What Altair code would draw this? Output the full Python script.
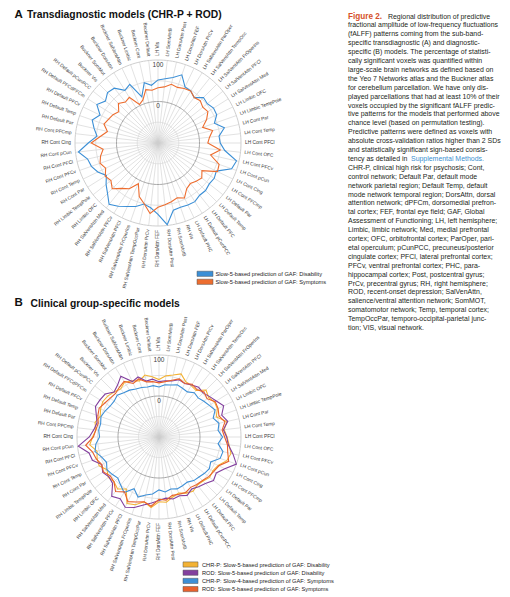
import altair as alt
import pandas as pd

# ---------------- data ----------------
regions = [
    "LH Vis", "LH SomMotB", "LH DorsAttn Post", "LH DorsAttn FEF", "LH DorsAttn PrCv",
    "LH SalVentAttn ParOper", "LH SalVentAttn TempOcc", "LH SalVentAttn FrOperIns",
    "LH SalVentAttn PFCl", "LH SalVentAttn Med", "LH Limbic OFC", "LH Limbic TempPole",
    "LH Cont Par", "LH Cont Temp", "LH Cont PFCl", "LH Cont OFC", "LH Cont PFCv", "LH Cont pCun",
    "LH Cont Cing", "LH Cont PFCmp", "LH Default Par", "LH Default Temp", "LH Default PFC",
    "LH Default pCunPCC", "LH Default PHC", "RH Vis", "RH SomMotB", "RH DorsAttn Post",
    "RH DorsAttn FEF", "RH DorsAttn PrCv", "RH SalVentAttn TempOccPar", "RH SalVentAttn FrOperIns",
    "RH SalVentAttn PFCl", "RH SalVentAttn PFCv", "RH SalVentAttn Med", "RH Limbic OFC",
    "RH Limbic TempPole", "RH Cont Par", "RH Cont Temp", "RH Cont PFCv", "RH Cont PFCl",
    "RH Cont pCun", "RH Cont Cing", "RH Cont PFCmp", "RH Default Par", "RH Default Temp",
    "RH Default PFCv", "RH Default PFCdPFCm", "RH Default pCunPCC", "Buckner Vis",
    "Buckner SomMot", "Buckner DorsAttn", "Buckner SalVentAttn", "Buckner Limbic",
    "Buckner Cont", "Buckner Default",
]

a_disability = [52, 56, 62, 74, 50, 48, 40, 55,
                52, 58, 57, 44, 64, 48, 50, 62,
                94, 88, 56, 60, 58, 62, 61, 67,
                66, 64, 66, 98, 72, 57, 51, 62,
                70, 80, 89, 72, 60, 47, 61, 70,
                74, 93, 68, 48, 58, 68, 55, 74,
                62, 72, 69, 50, 57, 18, 49, 40]
a_symptoms = [33, 36, 45, 42, 46, 48, 40, 44,
              38, 42, 30, 14, 35, 25, 20, 51,
              30, 56, 59, 25, 35, 30, 25, 30,
              47, 40, 45, 50, 55, 71, 50, 37,
              9, 30, 40, 56, 45, 50, 40, 48,
              42, 33, 61, 40, 25, 38, 32, 28,
              21, 35, 26, 30, 3, 10, 32, 28]

b_chrp_s5_dis = [40, 50, 55, 63, 50, 48, 45, 62,
                 55, 60, 58, 48, 70, 60, 66, 72,
                 80, 75, 60, 55, 58, 52, 50, 56,
                 52, 45, 50, 60, 58, 73, 62, 75,
                 80, 50, 62, 55, 58, 50, 62, 60,
                 55, 70, 62, 55, 60, 52, 58, 62,
                 60, 55, 50, 58, 52, 45, 55, 48]
b_rod_s5_dis = [35, 38, 40, 48, 45, 50, 55, 52,
                58, 65, 75, 62, 72, 58, 65, 70,
                85, 100, 78, 65, 70, 60, 55, 50,
                58, 52, 55, 50, 55, 62, 70, 82,
                90, 78, 85, 60, 56, 62, 55, 72,
                75, 98, 70, 60, 55, 62, 72, 70,
                68, 55, 62, 75, 50, 55, 40, 42]
b_chrp_s4_sym = [22, 28, 30, 35, 32, 30, 38, 35,
                 40, 45, 52, 40, 50, 45, 55, 45,
                 60, 58, 40, 45, 42, 38, 36, 30,
                 32, 34, 30, 35, 29, 40, 45, 55,
                 40, 60, 50, 42, 46, 50, 42, 48,
                 60, 55, 45, 48, 46, 50, 46, 41,
                 40, 44, 38, 35, 30, 28, 25, 26]
b_rod_s5_sym = [32, 36, 42, 50, 45, 52, 48, 55,
                50, 62, 60, 55, 65, 55, 60, 68,
                72, 80, 62, 58, 55, 50, 48, 45,
                50, 48, 46, 55, 52, 70, 62, 68,
                75, 58, 70, 55, 52, 60, 55, 62,
                66, 80, 60, 55, 52, 58, 62, 56,
                52, 50, 55, 60, 45, 50, 38, 36]

a_series = ["Slow-5-based prediction of GAF: Disability",
            "Slow-5-based prediction of GAF: Symptoms"]
b_series = ["CHR-P: Slow-5-based prediction of GAF: Disability",
            "ROD: Slow-5-based prediction of GAF: Disability",
            "CHR-P: Slow-4-based prediction of GAF: Symptoms",
            "ROD: Slow-5-based prediction of GAF: Symptoms"]
ring_ticks = [0, 100]

title_a = ("A", "Transdiagnostic models (CHR-P + ROD)")
title_b = ("B", "Clinical group-specific models")

caption_lines = [
    "Figure 2. Regional distribution of predictive",
    "fractional amplitude of low-frequency fluctuations",
    "(fALFF) patterns coming from the sub-band-",
    "specific transdiagnostic (A) and diagnostic-",
    "specific (B) models. The percentage of statisti-",
    "cally significant voxels was quantified within",
    "large-scale brain networks as defined based on",
    "the Yeo 7 Networks atlas and the Buckner atlas",
    "for cerebellum parcellation. We have only dis-",
    "played parcellations that had at least 10% of their",
    "voxels occupied by the significant fALFF predic-",
    "tive patterns for the models that performed above",
    "chance level (based on permutation testing).",
    "Predictive patterns were defined as voxels with",
    "absolute cross-validation ratios higher than 2 SDs",
    "and statistically significant sign-based consis-",
    "tency as detailed in Supplemental Methods.",
    "CHR-P, clinical high risk for psychosis; Cont,",
    "control network; Default Par, default mode",
    "network parietal region; Default Temp, default",
    "mode network temporal region; DorsAttn, dorsal",
    "attention network; dPFCm, dorsomedial prefron-",
    "tal cortex; FEF, frontal eye field; GAF, Global",
    "Assessment of Functioning; LH, left hemisphere;",
    "Limbic, limbic network; Med, medial prefrontal",
    "cortex; OFC, orbitofrontal cortex; ParOper, pari-",
    "etal operculum; pCunPCC, precuneus/posterior",
    "cingulate cortex; PFCl, lateral prefrontal cortex;",
    "PFCv, ventral prefrontal cortex; PHC, para-",
    "hippocampal cortex; Post, postcentral gyrus;",
    "PrCv, precentral gyrus; RH, right hemisphere;",
    "ROD, recent-onset depression; SalVenAttn,",
    "salience/ventral attention network; SomMOT,",
    "somatomotor network; Temp, temporal cortex;",
    "TempOccPar, temporo-occipital-parietal junc-",
    "tion; VIS, visual network.",
]

# ---------------- styles / layout ----------------
all_series = a_series + b_series
palette = ["#3b8fd6", "#ed6d2f", "#f3b234", "#83409e", "#3d8fd6", "#e8602c"]
FONT = "Liberation Sans"
W, H = 494, 589
PX0, PX1, PY0, PY1 = 8, 8 + W, 8, 8 + H
N = len(regions)

color_enc = alt.Color("series:N", scale=alt.Scale(domain=all_series, range=palette), legend=None)


def radar(names, arrays, cx, cy, R):
    k = R / 200.0
    xdom = [(PX0 - cx) / k, (PX1 - cx) / k]
    ydom = [-(PY1 - cy) / k, (cy - PY0) / k]
    xs = alt.Scale(domain=xdom, nice=False, zero=False)
    ys = alt.Scale(domain=ydom, nice=False, zero=False)

    def X(f):
        return alt.X(f"{f}:Q", scale=xs, axis=None)

    def Y(f):
        return alt.Y(f"{f}:Q", scale=ys, axis=None)

    base = pd.DataFrame({"idx": list(range(N)), "region": regions})
    th = f"datum.idx*2*PI/{N}"

    spokes = alt.Chart(base).transform_calculate(
        th=th, x0="0", y0="0",
        x1="200*sin(datum.th)", y1="200*cos(datum.th)",
    ).mark_rule(color="#cfcfcf", strokeWidth=0.6).encode(
        x=X("x0"), y=Y("y0"), x2=alt.X2("x1:Q"), y2=alt.Y2("y1:Q"))

    def ring(u, col, w):
        return alt.Chart(alt.sequence(0, 361, 2, as_="deg")).transform_calculate(
            x=f"{u}*sin(datum.deg*PI/180)", y=f"{u}*cos(datum.deg*PI/180)",
        ).mark_line(color=col, strokeWidth=w).encode(x=X("x"), y=Y("y"), order="deg:Q")

    rings = [ring(50, "#d9d9d9", 0.8), ring(100, "#a6a6a6", 1.0),
             ring(150, "#d9d9d9", 0.8), ring(200, "#cfcfcf", 1.0)]

    rows = []
    for s, vals in zip(names, arrays):
        for i, v in enumerate(vals):
            rows.append({"series": s, "idx": i, "value": v})
    df = pd.DataFrame(rows)
    lines = alt.Chart(df).transform_calculate(
        th=th, u="datum.value+100",
        x="datum.u*sin(datum.th)", y="datum.u*cos(datum.th)",
    ).mark_line(interpolate="linear-closed", strokeWidth=1.1).encode(
        x=X("x"), y=Y("y"), color=color_enc, order="idx:Q", detail="series:N")

    ul = 200 + 4.0 / k
    lab = alt.Chart(base).transform_calculate(
        th=th, deg=f"datum.idx*360/{N}",
        x=f"{ul}*sin(datum.th)", y=f"{ul}*cos(datum.th)",
    )
    lab_r = lab.transform_filter("datum.deg < 180").transform_calculate(
        ang="(datum.deg - 90 + 360) % 360"
    ).mark_text(align="left", baseline="middle", fontSize=4.8, font=FONT, color="#3a3a3a").encode(
        x=X("x"), y=Y("y"), text="region:N", angle=alt.Angle("ang:Q", scale=None))
    lab_l = lab.transform_filter("datum.deg >= 180").transform_calculate(
        ang="(datum.deg - 270 + 360) % 360"
    ).mark_text(align="right", baseline="middle", fontSize=4.8, font=FONT, color="#3a3a3a").encode(
        x=X("x"), y=Y("y"), text="region:N", angle=alt.Angle("ang:Q", scale=None))

    ticks = alt.Chart(pd.DataFrame({"tick": ring_ticks})).transform_calculate(
        x="0", y="datum.tick+100"
    ).mark_text(baseline="top", dy=1.5, fontSize=6.5, font=FONT, color="#404040").encode(
        x=X("x"), y=Y("y"), text="tick:Q")

    return alt.layer(spokes, *rings, ticks, lines, lab_r, lab_l)


radar_a = radar(a_series, [a_disability, a_symptoms], 158, 143, 83)
radar_b = radar(b_series, [b_chrp_s5_dis, b_rod_s5_dis, b_chrp_s4_sym, b_rod_s5_sym], 159, 437, 82)

# ---------------- page-coordinate layer: titles, caption, legends ----------------
pxs = alt.Scale(domain=[PX0, PX1], nice=False, zero=False)
pys = alt.Scale(domain=[PY0, PY1], nice=False, zero=False, reverse=True)
PXe = alt.X("px:Q", scale=pxs, axis=None)
PYe = alt.Y("py:Q", scale=pys, axis=None)


def text_at(txt, x, y, **kw):
    return alt.Chart(pd.DataFrame({"t": [txt]})).transform_calculate(
        px=str(x), py=str(y)
    ).mark_text(align="left", baseline="middle", font=FONT, **kw).encode(x=PXe, y=PYe, text="t:N")


titles = [
    text_at(title_a[0], 14.5, 14.5, fontSize=11.5, fontWeight="bold", color="#111111"),
    text_at(title_a[1], 27, 14.5, fontSize=10.3, fontWeight="bold", color="#111111"),
    text_at(title_b[0], 14.5, 303, fontSize=11.5, fontWeight="bold", color="#111111"),
    text_at(title_b[1], 30.5, 303.5, fontSize=10.3, fontWeight="bold", color="#111111"),
]

CAP_X, CAP_Y0, CAP_DY = 348, 16.5, 8.9
cap_df = pd.DataFrame({"line": list(range(len(caption_lines))), "t": caption_lines})
special = [0, 16]
cap_main = alt.Chart(cap_df).transform_filter(
    f"indexof({special}, datum.line) < 0"
).transform_calculate(
    px=str(CAP_X), py=f"{CAP_Y0} + {CAP_DY}*datum.line"
).mark_text(align="left", baseline="middle", font=FONT, fontSize=6.95, color="#231f20").encode(
    x=PXe, y=PYe, text="t:N")

fig_word = " ".join(caption_lines[0].split(" ")[:2])
fig_rest = caption_lines[0][len(fig_word) + 1:]
sup_split = caption_lines[16].index("Supplemental")
cap_special = [
    text_at(fig_word, CAP_X, CAP_Y0, fontSize=8.2, fontWeight="bold", color="#d5502a"),
    text_at(fig_rest, 388, CAP_Y0, fontSize=6.95, color="#231f20"),
    text_at(caption_lines[16][:sup_split], CAP_X, CAP_Y0 + CAP_DY * 16, fontSize=6.95, color="#231f20"),
    text_at(caption_lines[16][sup_split:], 411, CAP_Y0 + CAP_DY * 16, fontSize=6.95, color="#3b8fd0"),
]


def legend(names, x0, x1, y0, dy, tx):
    df = pd.DataFrame({"series": names, "i": list(range(len(names)))})
    base = alt.Chart(df).transform_calculate(
        px=str(x0), px2=str(x1), py=f"{y0} + {dy}*datum.i",
        pya="datum.py - 2.6", pyb="datum.py + 2.6", tx=str(tx),
    )
    sw = base.mark_rect(stroke="#555555", strokeWidth=0.5).encode(
        x=alt.X("px:Q", scale=pxs, axis=None), x2="px2:Q",
        y=alt.Y("pya:Q", scale=pys, axis=None), y2="pyb:Q", color=color_enc)
    tx_ = base.mark_text(align="left", baseline="middle", font=FONT, fontSize=5.7, color="#222222").encode(
        x=alt.X("tx:Q", scale=pxs, axis=None), y=alt.Y("py:Q", scale=pys, axis=None), text="series:N")
    return [sw, tx_]


leg_a = legend(a_series, 197, 213, 273.8, 8.0, 215.5)
leg_b = legend(b_series, 183, 198, 564.5, 8.2, 202)

page = alt.layer(*titles, cap_main, *cap_special, *leg_a, *leg_b)

chart = alt.layer(radar_a, radar_b, page).resolve_scale(
    x="independent", y="independent"
).properties(
    width=W, height=H, autosize=alt.AutoSizeParams(type="none"), padding=0
).configure_view(stroke=None)

chart.save("out.html", embed_options={"renderer": "svg", "actions": False})
